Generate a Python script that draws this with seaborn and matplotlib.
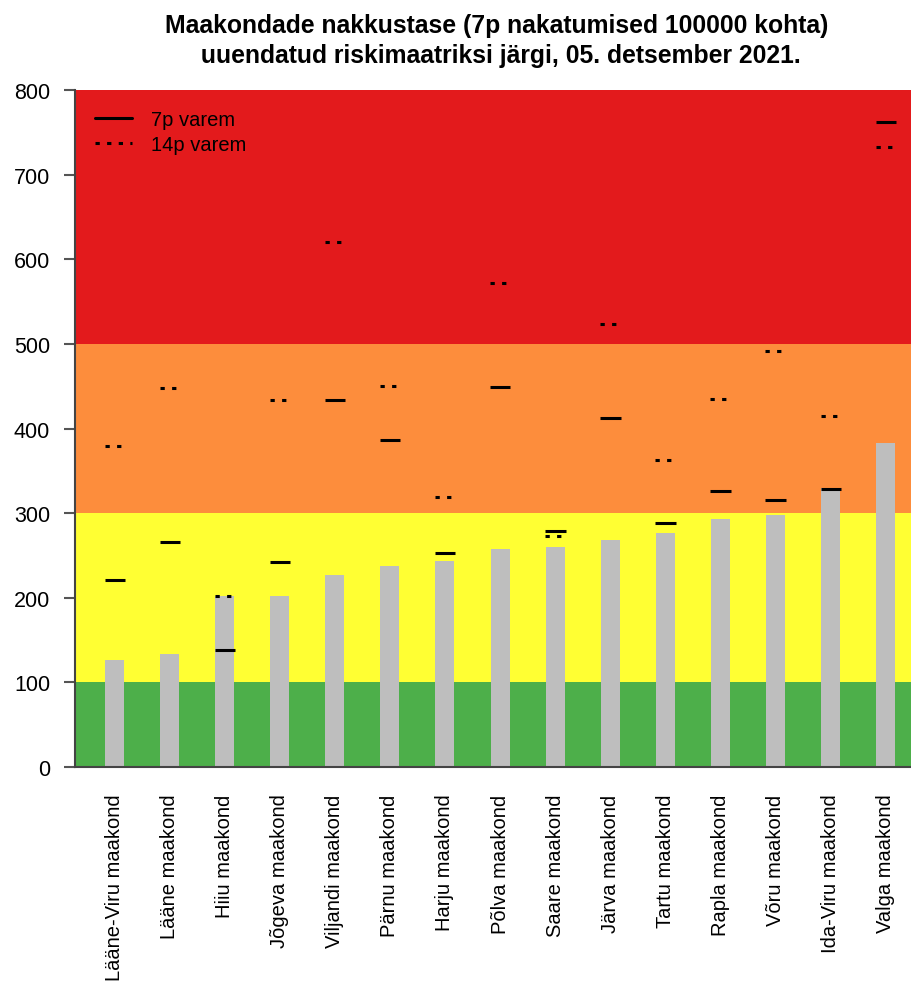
import matplotlib
matplotlib.use("Agg")
import matplotlib.pyplot as plt
from matplotlib.lines import Line2D
import seaborn as sns
import pandas as pd
import numpy as np

counties = ["Lääne-Viru maakond", "Lääne maakond", "Hiiu maakond", "Jõgeva maakond",
            "Viljandi maakond", "Pärnu maakond", "Harju maakond", "Põlva maakond",
            "Saare maakond", "Järva maakond", "Tartu maakond", "Rapla maakond",
            "Võru maakond", "Ida-Viru maakond", "Valga maakond"]
current = [127, 133, 202, 202, 227, 237, 243, 258, 260, 268, 277, 293, 298, 330, 383]
prev7 = [221, 266, 138, 242, 434, 386, 253, 449, 279, 412, 288, 326, 315, 328, 762]
prev14 = [379, 448, 202, 434, 620, 450, 319, 572, 273, 523, 363, 435, 492, 415, 733]
zones = [(0, 100, "#4DAF4A"), (100, 300, "#FFFF33"), (300, 500, "#FD8D3C"), (500, 800, "#E31A1C")]
title = "Maakondade nakkustase (7p nakatumised 100000 kohta)\n uuendatud riskimaatriksi järgi, 05. detsember 2021."

sns.set_style("white")
plt.rcParams["font.family"] = ["Liberation Sans", "DejaVu Sans"]
plt.rcParams["text.color"] = "black"
plt.rcParams["xtick.labelcolor"] = "black"
plt.rcParams["ytick.labelcolor"] = "black"

df = pd.DataFrame({"county": counties, "value": current, "p7": prev7, "p14": prev14})

fig = plt.figure(figsize=(9.12, 9.87), dpi=100)
ax = fig.add_axes([75 / 912, (987 - 768) / 987, 1 - 75 / 912, (768 - 91) / 987])

for lo, hi, c in zones:
    ax.axhspan(lo, hi, color=c, zorder=0, lw=0)

sns.barplot(data=df, x="county", y="value", color="#BEBEBE", width=0.345,
            saturation=1, ax=ax, zorder=2, edgecolor="none")

xs = np.arange(len(counties))
ax.hlines(df["p7"], xs - 0.18, xs + 0.19, colors="black", lw=2.2, zorder=3)
ax.hlines(df["p14"], xs - 0.18, xs + 0.19, colors="black", lw=2.2,
          linestyles=[(0, (1.4, 2.4))], zorder=3)

ax.set_xlim(-0.717, 14.48)
ax.set_ylim(0, 800)
ax.set_yticks(range(0, 801, 100))
ax.set_xlabel("")
ax.set_ylabel("")
ax.tick_params(axis="y", labelsize=15.5, length=8, width=1.5, color="#555555", left=True, pad=10)
ax.tick_params(axis="x", labelsize=14.5, length=0, pad=19, labelrotation=90)
for s in ["top", "right"]:
    ax.spines[s].set_visible(False)
for s in ["left", "bottom"]:
    ax.spines[s].set_color("#444444")
    ax.spines[s].set_linewidth(1.5)

handles = [Line2D([], [], color="black", lw=2.2),
           Line2D([], [], color="black", lw=2.2, linestyle=(0, (1.4, 2.4)))]
ax.legend(handles, ["7p varem", "14p varem"], loc="upper left", frameon=False,
          fontsize=14.5, handlelength=1.85, handletextpad=0.9, labelspacing=0.3,
          borderaxespad=0.6)

fig.text(0.545, 0.986, title, ha="center", va="top", fontsize=17.8,
         fontweight="bold", linespacing=1.35)

fig.savefig("out.png", dpi=100)
